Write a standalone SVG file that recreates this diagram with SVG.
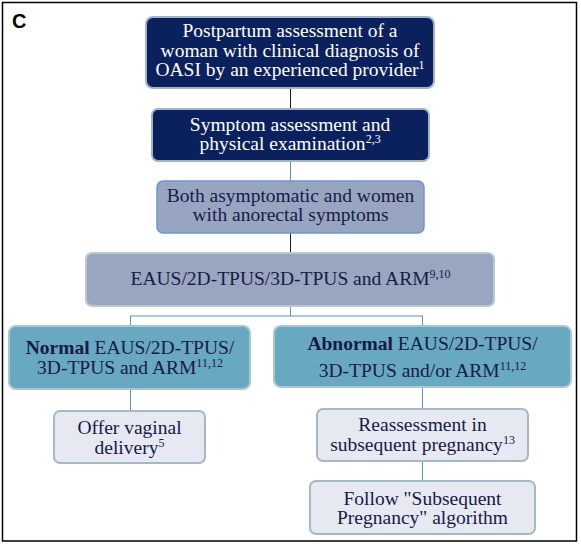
<svg xmlns="http://www.w3.org/2000/svg" width="581" height="544" viewBox="0 0 581 544">
<style>
text{font-family:"Liberation Serif","Times New Roman",Times,serif;font-size:19.5px;text-anchor:middle}
.w{fill:#ffffff}
.d{fill:#161b48}
.sup{font-size:12px}
.navy{fill:#0b215e;stroke:#a3b3c4;stroke-width:2}
.slate{fill:#98a5c0;stroke:#6f96cc;stroke-width:1.5}
.slate2{fill:#99a6c0;stroke:#bcc7d6;stroke-width:2}
.teal{fill:#68a8c0;stroke:#a9c6d4;stroke-width:2}
.light{fill:#e6e9f1;stroke:#a3b9c5;stroke-width:2}
.k{stroke:#1a1a1a;stroke-width:1;fill:none}
.b{stroke:#5b8fc9;stroke-width:1;fill:none}
</style>
<rect x="2.5" y="2.5" width="574" height="538.5" fill="#ffffff" stroke="#000000" stroke-width="1.5"/>
<text x="12" y="28" style="font-family:'Liberation Sans',Arial,sans-serif;font-weight:bold;font-size:20px;text-anchor:start" fill="#000">C</text>
<g id="connectors">
<path class="k" d="M290.5 88V109"/>
<path class="b" d="M290.5 161V181"/>
<path class="k" d="M290.5 233V253"/>
<path class="b" d="M290.5 306V316M130.5 326V316H422.5V326"/>
<path class="b" d="M130.5 389V411"/>
<path class="b" d="M422.5 387V409"/>
<path class="b" d="M422.5 461V481"/>
</g>
<g font-family="Liberation Serif, Times New Roman, serif">
<g id="n1">
<rect class="navy" x="146" y="17" width="288" height="71" rx="7"/>
<text class="w" x="290" y="37">Postpartum assessment of a</text>
<text class="w" x="290" y="56.5">woman with clinical diagnosis of</text>
<text class="w" x="290" y="76">OASI by an experienced provider<tspan class="sup" dy="-7">1</tspan></text>
</g>
<g id="n2">
<rect class="navy" x="152" y="109" width="277" height="52" rx="6"/>
<text class="w" x="290" y="130.5">Symptom assessment and</text>
<text class="w" x="290" y="149.5">physical examination<tspan class="sup" dy="-7">2,3</tspan></text>
</g>
<g id="n3">
<rect class="slate" x="157" y="181" width="267" height="52" rx="6"/>
<text class="d" x="290.5" y="201.5">Both asymptomatic and women</text>
<text class="d" x="290.5" y="221">with anorectal symptoms</text>
</g>
<g id="n4">
<rect class="slate2" x="86" y="253" width="408" height="53" rx="6"/>
<text class="d" x="290.5" y="284.5">EAUS/2D-TPUS/3D-TPUS and ARM<tspan class="sup" dy="-7">9,10</tspan></text>
</g>
<g id="n5">
<rect class="teal" x="9" y="326" width="241" height="63" rx="7"/>
<text class="d" x="130" y="354"><tspan font-weight="bold">Normal</tspan> EAUS/2D-TPUS/</text>
<text class="d" x="130" y="374">3D-TPUS and ARM<tspan class="sup" dy="-7">11,12</tspan></text>
</g>
<g id="n6">
<rect class="teal" x="274" y="326" width="297" height="61" rx="7"/>
<text class="d" x="422.5" y="349.5"><tspan font-weight="bold">Abnormal</tspan> EAUS/2D-TPUS/</text>
<text class="d" x="422.5" y="377">3D-TPUS and/or ARM<tspan class="sup" dy="-7">11,12</tspan></text>
</g>
<g id="n7">
<rect class="light" x="54" y="411" width="151" height="52" rx="6"/>
<text class="d" x="129.5" y="434">Offer vaginal</text>
<text class="d" x="129.5" y="454">delivery<tspan class="sup" dy="-7">5</tspan></text>
</g>
<g id="n8">
<rect class="light" x="317" y="409" width="211" height="52" rx="6"/>
<text class="d" x="422.5" y="431">Reassessment in</text>
<text class="d" x="422.5" y="450.5">subsequent pregnancy<tspan class="sup" dy="-7">13</tspan></text>
</g>
<g id="n9">
<rect class="light" x="310" y="481" width="225" height="53" rx="6"/>
<text class="d" x="422.5" y="505">Follow "Subsequent</text>
<text class="d" x="422.5" y="524">Pregnancy" algorithm</text>
</g>
</g>
</svg>
